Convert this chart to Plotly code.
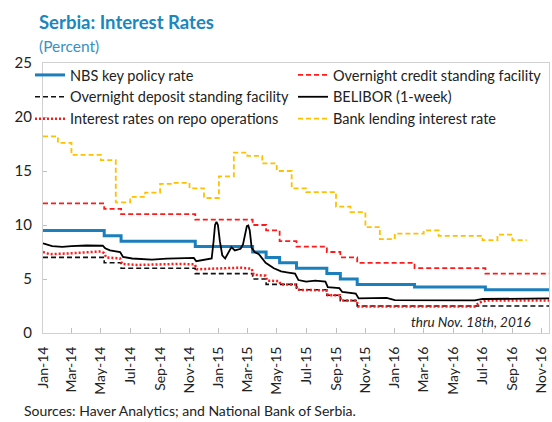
import pandas as pd
import plotly.graph_objects as go

# ---------------- data ----------------
policy_dates = ["2014-01-01", "2014-05-08", "2014-06-12", "2014-11-13", "2015-03-12", "2015-04-09",
                "2015-05-07", "2015-06-11", "2015-08-13", "2015-09-10", "2015-10-15", "2016-02-11",
                "2016-07-07"]
policy_end = "2016-11-18"
nbs_key_rate = [9.5, 9.0, 8.5, 8.0, 7.5, 7.0, 6.5, 6.0, 5.5, 5.0, 4.5, 4.25, 4.0]
overnight_credit = [12.0, 11.5, 11.0, 10.5, 10.0, 9.5, 8.5, 8.0, 7.5, 7.0, 6.5, 6.0, 5.5]
overnight_deposit = [7.0, 6.5, 6.0, 5.5, 5.0, 4.5, 4.5, 4.0, 3.5, 3.0, 2.5, 2.5, 2.5]

lending_start = "2014-01-01"
lending_values = [18.2, 17.6, 16.5, 16.5, 16.0, 12.1, 12.6, 13.0, 13.8, 13.9, 13.4, 12.5,
                  14.5, 16.7, 16.4, 15.7, 15.0, 13.4, 13.05, 13.05, 11.7, 11.2, 9.8, 8.7,
                  9.2, 9.2, 9.5, 9.0, 9.0, 9.0, 8.6, 9.1, 8.6]

belibor_dates = ["2014-01-01", "2014-01-20", "2014-02-10", "2014-03-01", "2014-04-01", "2014-05-05",
                 "2014-05-10", "2014-05-20", "2014-06-10", "2014-06-16", "2014-07-05", "2014-08-15",
                 "2014-09-15", "2014-10-15", "2014-11-10", "2014-11-15", "2014-12-05", "2014-12-17",
                 "2014-12-21", "2014-12-24", "2014-12-27", "2014-12-30", "2015-01-03", "2015-01-08",
                 "2015-01-14", "2015-01-22", "2015-01-27", "2015-02-03", "2015-02-15", "2015-02-20",
                 "2015-02-24", "2015-02-28", "2015-03-03", "2015-03-06", "2015-03-10", "2015-03-16",
                 "2015-03-25", "2015-04-08", "2015-04-25", "2015-05-10", "2015-05-25", "2015-06-08",
                 "2015-06-15", "2015-07-01", "2015-07-20", "2015-08-10", "2015-08-15", "2015-09-08",
                 "2015-09-14", "2015-10-12", "2015-10-18", "2015-12-15", "2016-01-01", "2016-06-15",
                 "2016-07-01", "2016-11-18"]
belibor = [8.3, 8.05, 7.97, 8.05, 8.1, 8.08,
           7.85, 7.65, 7.5, 7.05, 6.9, 6.8,
           6.88, 6.95, 6.95, 6.65, 6.82, 6.9,
           8.5, 10.0, 10.3, 10.0, 8.5, 7.2,
           6.9, 7.5, 7.95, 7.65, 7.8, 8.2,
           9.2, 9.9, 9.95, 9.5, 7.9, 7.5,
           7.3, 6.5, 6.0, 5.7, 5.6, 5.5,
           4.9, 4.75, 4.85, 4.75, 4.25, 4.15,
           3.8, 3.65, 3.2, 3.25, 3.05, 3.02,
           3.15, 3.2]

repo_dates = ["2014-01-01", "2014-01-15", "2014-02-15", "2014-03-15", "2014-04-15", "2014-05-01",
              "2014-05-08", "2014-05-12", "2014-06-10", "2014-06-14", "2014-07-15", "2014-08-15",
              "2014-09-15", "2014-10-15", "2014-11-12", "2014-11-16", "2014-12-15", "2015-01-15",
              "2015-02-15", "2015-03-10", "2015-03-14", "2015-04-08", "2015-04-11", "2015-05-06",
              "2015-05-09", "2015-06-10", "2015-06-13", "2015-08-12", "2015-08-15", "2015-09-09",
              "2015-09-12", "2015-10-14", "2015-10-17", "2016-06-15", "2016-06-25", "2016-07-10",
              "2016-11-18"]
repo = [7.5, 7.3, 7.35, 7.4, 7.5, 7.55,
        7.4, 7.0, 6.9, 6.4, 6.3, 6.35,
        6.4, 6.4, 6.35, 5.9, 5.95, 6.0,
        6.05, 5.95, 5.4, 5.3, 4.85, 4.8,
        4.5, 4.5, 4.0, 3.95, 3.5, 3.5,
        3.0, 3.0, 2.45, 2.45, 2.85, 3.0,
        3.0]

tick_dates = ["2014-01-01", "2014-03-01", "2014-05-01", "2014-07-01", "2014-09-01", "2014-11-01",
              "2015-01-01", "2015-03-01", "2015-05-01", "2015-07-01", "2015-09-01", "2015-11-01",
              "2016-01-01", "2016-03-01", "2016-05-01", "2016-07-01", "2016-09-01", "2016-11-01"]
tick_labels = ["Jan-14", "Mar-14", "May-14", "Jul-14", "Sep-14", "Nov-14",
               "Jan-15", "Mar-15", "May-15", "Jul-15", "Sep-15", "Nov-15",
               "Jan-16", "Mar-16", "May-16", "Jul-16", "Sep-16", "Nov-16"]
y_ticks = [0, 5, 10, 15, 20, 25]

# ---------------- helpers ----------------
def step_xy(dates, values, end):
    return list(dates) + [end], list(values) + [values[-1]]

lending_dates = [d.strftime("%Y-%m-%d") for d in
                 pd.date_range(lending_start, periods=len(lending_values), freq="MS")]
lending_end = (pd.Timestamp(lending_dates[-1]) + pd.offsets.MonthBegin(1)).strftime("%Y-%m-%d")

FONT = "Lato"
BLUE = "#1b7fbd"
RED = "#ff1a1a"
ORANGE = "#ffc000"
FRAME = "#d0d0d0"

fig = go.Figure()

x, y = step_xy(lending_dates, lending_values, lending_end)
fig.add_trace(go.Scatter(x=x, y=y, mode="lines", line_shape="hv", name="Bank lending interest rate",
                         line=dict(color=ORANGE, width=1.8, dash="5px,3px"), legendrank=6))
x, y = step_xy(policy_dates, overnight_credit, policy_end)
fig.add_trace(go.Scatter(x=x, y=y, mode="lines", line_shape="hv", name="Overnight credit standing facility",
                         line=dict(color=RED, width=1.8, dash="5px,3px"), legendrank=2))
x, y = step_xy(policy_dates, nbs_key_rate, policy_end)
fig.add_trace(go.Scatter(x=x, y=y, mode="lines", line_shape="hv", name="NBS key policy rate",
                         line=dict(color=BLUE, width=3), legendrank=1))
x, y = step_xy(policy_dates, overnight_deposit, policy_end)
fig.add_trace(go.Scatter(x=x, y=y, mode="lines", line_shape="hv", name="Overnight deposit standing facility",
                         line=dict(color="#111111", width=1.6, dash="5px,3px"), legendrank=3))
fig.add_trace(go.Scatter(x=repo_dates, y=repo, mode="lines", name="Interest rates on repo operations",
                         line=dict(color=RED, width=2.5, dash="2px,2px"), legendrank=5))
fig.add_trace(go.Scatter(x=belibor_dates, y=belibor, mode="lines", name="BELIBOR (1-week)",
                         line=dict(color="#000000", width=1.8), legendrank=4))

PLOT_W, PLOT_H = 506, 270

fig.update_layout(
    width=552, height=422,
    margin=dict(l=43, r=3, t=63, b=89, autoexpand=False),
    paper_bgcolor="white", plot_bgcolor="white",
    font=dict(family=FONT, size=14, color="#222222"),
    showlegend=True,
    legend=dict(orientation="h", xref="paper", yref="paper",
                x=-13 / PLOT_W, y=1 + 4 / PLOT_H, xanchor="left", yanchor="top",
                entrywidth=218, entrywidthmode="pixels", itemwidth=30,
                bgcolor="rgba(0,0,0,0)", borderwidth=0,
                font=dict(family=FONT, size=14.5, color="#222222"), tracegroupgap=0),
    xaxis=dict(type="date", range=["2014-01-01", "2016-11-16"], tickvals=tick_dates, ticktext=tick_labels,
               tickangle=-90, ticks="inside", ticklen=5, tickcolor="#bfbfbf", showline=True, mirror=True,
               linecolor=FRAME, linewidth=1, showgrid=False, zeroline=False, ticklabelstandoff=7,
               tickfont=dict(family=FONT, size=14, color="#222222")),
    yaxis=dict(range=[0, 25], tickvals=y_ticks, ticks="inside", ticklen=4, tickcolor="#bfbfbf",
               showline=True, mirror=True, linecolor=FRAME, linewidth=1, showgrid=False, zeroline=False,
               tickfont=dict(family=FONT, size=15, color="#222222"), ticklabelstandoff=7),
    annotations=[
        dict(text="<b>Serbia: Interest Rates</b>", xref="paper", yref="paper", x=-6 / PLOT_W,
             y=1 + (333 - 22 - 270) / PLOT_H, xanchor="left", yanchor="middle", showarrow=False,
             font=dict(family=FONT, size=18.5, color="#1a87bf")),
        dict(text="(Percent)", xref="paper", yref="paper", x=-6 / PLOT_W,
             y=1 + (333 - 46 - 270) / PLOT_H, xanchor="left", yanchor="middle", showarrow=False,
             font=dict(family=FONT, size=15.5, color="#3a8fc4")),
        dict(text="<i>thru Nov. 18th, 2016</i>", xref="paper", yref="paper", x=0.968, y=0.041,
             xanchor="right", yanchor="middle", showarrow=False,
             font=dict(family=FONT, size=13.5, color="#222222")),
        dict(text="Sources: Haver Analytics; and National Bank of Serbia.", xref="paper", yref="paper",
             x=-21 / PLOT_W, y=(333 - 410) / PLOT_H, xanchor="left", yanchor="middle", showarrow=False,
             font=dict(family=FONT, size=14, color="#222222")),
    ],
)

fig.write_html("out.html",
               config={"displayModeBar": False},
               post_script="document.body.style.margin='0';document.body.style.padding='0';"
                           "document.documentElement.style.overflow='hidden';")
